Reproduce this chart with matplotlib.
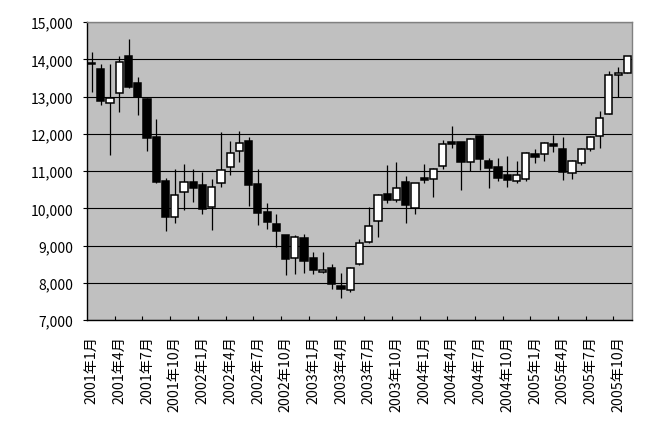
import matplotlib
matplotlib.use("Agg")
import matplotlib.pyplot as plt
import numpy as np

# Monthly categories 2001/1 .. 2005/11
months = [f"{y}年{m}月" for y in range(2001, 2006) for m in range(1, 13)][:59]

opens = [13910, 13739, 12816, 13085, 14080, 13354, 12933, 11911, 10728, 9779,
         10451, 10693, 10621, 10039, 10666, 11114, 11544, 11804, 10648, 9896,
         9573, 9277, 8668, 9197, 8659, 8292, 8390, 7906, 7808, 8507,
         9098, 9663, 10397, 10227, 10693, 10021, 10810, 10800, 11123, 11777,
         11777, 11231, 11938, 11266, 11105, 10890, 10737, 10800, 11454, 11445,
         11723, 11589, 10961, 11221, 11580, 11929, 12520, 13590, 13622]
highs = [14205, 13873, 13873, 14080, 14545, 13515, 12950, 12395, 10809, 11051,
         11185, 11051, 10979, 10800, 12037, 11804, 12073, 11903, 11051, 10155,
         9860, 9290, 9277, 9304, 8820, 8820, 8498, 8256, 8435, 9188,
         10048, 10388, 11159, 11240, 10863, 10680, 11186, 11078, 11840, 12198,
         11790, 11885, 11965, 11338, 11338, 11400, 11257, 11499, 11589, 11768,
         11974, 11920, 11284, 11607, 11947, 12610, 13694, 13784, 14080]
lows = [13130, 12771, 11427, 12592, 13228, 12511, 11544, 10675, 9393, 9608,
        9958, 10173, 9841, 9420, 10559, 10899, 11249, 10066, 9546, 9439,
        8973, 8211, 8238, 8265, 8247, 8274, 7826, 7584, 7754, 8480,
        9062, 9233, 10146, 10173, 9609, 9851, 10684, 10308, 11060, 11616,
        10496, 10998, 11033, 10549, 10737, 10585, 10675, 10737, 11212, 11275,
        11517, 10764, 10782, 11158, 11544, 11624, 12520, 12977, 13622]
closes = [13870, 12888, 12968, 13918, 13264, 12977, 11875, 10710, 9770, 10352,
          10693, 10549, 9994, 10585, 11025, 11473, 11750, 10630, 9878, 9636,
          9394, 8641, 9223, 8587, 8345, 8354, 7978, 7835, 8408, 9080,
          9537, 10344, 10227, 10558, 10093, 10666, 10765, 11042, 11714, 11732,
          11248, 11849, 11329, 11087, 10818, 10764, 10881, 11472, 11383, 11741,
          11678, 10988, 11257, 11589, 11902, 12413, 13569, 13620, 14080]

yticks = list(range(7000, 15001, 1000))

cjk = ["Noto Sans CJK JP", "DejaVu Sans"]

fig = plt.figure(figsize=(6.45, 4.27), dpi=100)
fig.patch.set_facecolor("white")
ax = fig.add_axes([0.1349, 0.2482, 0.8449, 0.6977])
ax.set_facecolor("#C0C0C0")

x = np.arange(len(months))
o = np.array(opens); c = np.array(closes)
h = np.array(highs); l = np.array(lows)
up = c >= o
bottoms = np.minimum(o, c)
heights = np.abs(c - o)
colors = np.where(up, "white", "black")

ax.vlines(x, l, h, color="black", linewidth=0.9, zorder=2)
ax.bar(x, heights, bottom=bottoms, width=0.78, color=colors,
       edgecolor="black", linewidth=1.1, zorder=3)

ax.set_xlim(-0.5, len(months) - 0.5)
ax.set_ylim(7000, 15000)
ax.set_yticks(yticks)
ax.set_yticklabels([f"{v:,}" for v in yticks], family=cjk, fontsize=10)
ax.yaxis.grid(True, color="black", linewidth=0.8)
ax.set_axisbelow(True)
ax.tick_params(axis="y", direction="out", length=3, width=0.8, pad=7)

major = list(range(0, len(months), 3))
ax.set_xticks(major)
ax.set_xticklabels([months[i] for i in major], rotation=90, family=cjk,
                   fontsize=10.2, va="top", ha="center")
ax.set_xticks(np.arange(2.5, len(months) - 0.5, 3), minor=True)
ax.tick_params(axis="x", which="major", length=0, pad=11)
ax.tick_params(axis="x", which="minor", direction="in", length=3, width=0.8)

for s in ["left", "bottom"]:
    ax.spines[s].set_color("black")
    ax.spines[s].set_linewidth(1.0)
for s in ["top", "right"]:
    ax.spines[s].set_color("#808080")
    ax.spines[s].set_linewidth(1.0)

fig.savefig("out.png", dpi=100, facecolor="white")
